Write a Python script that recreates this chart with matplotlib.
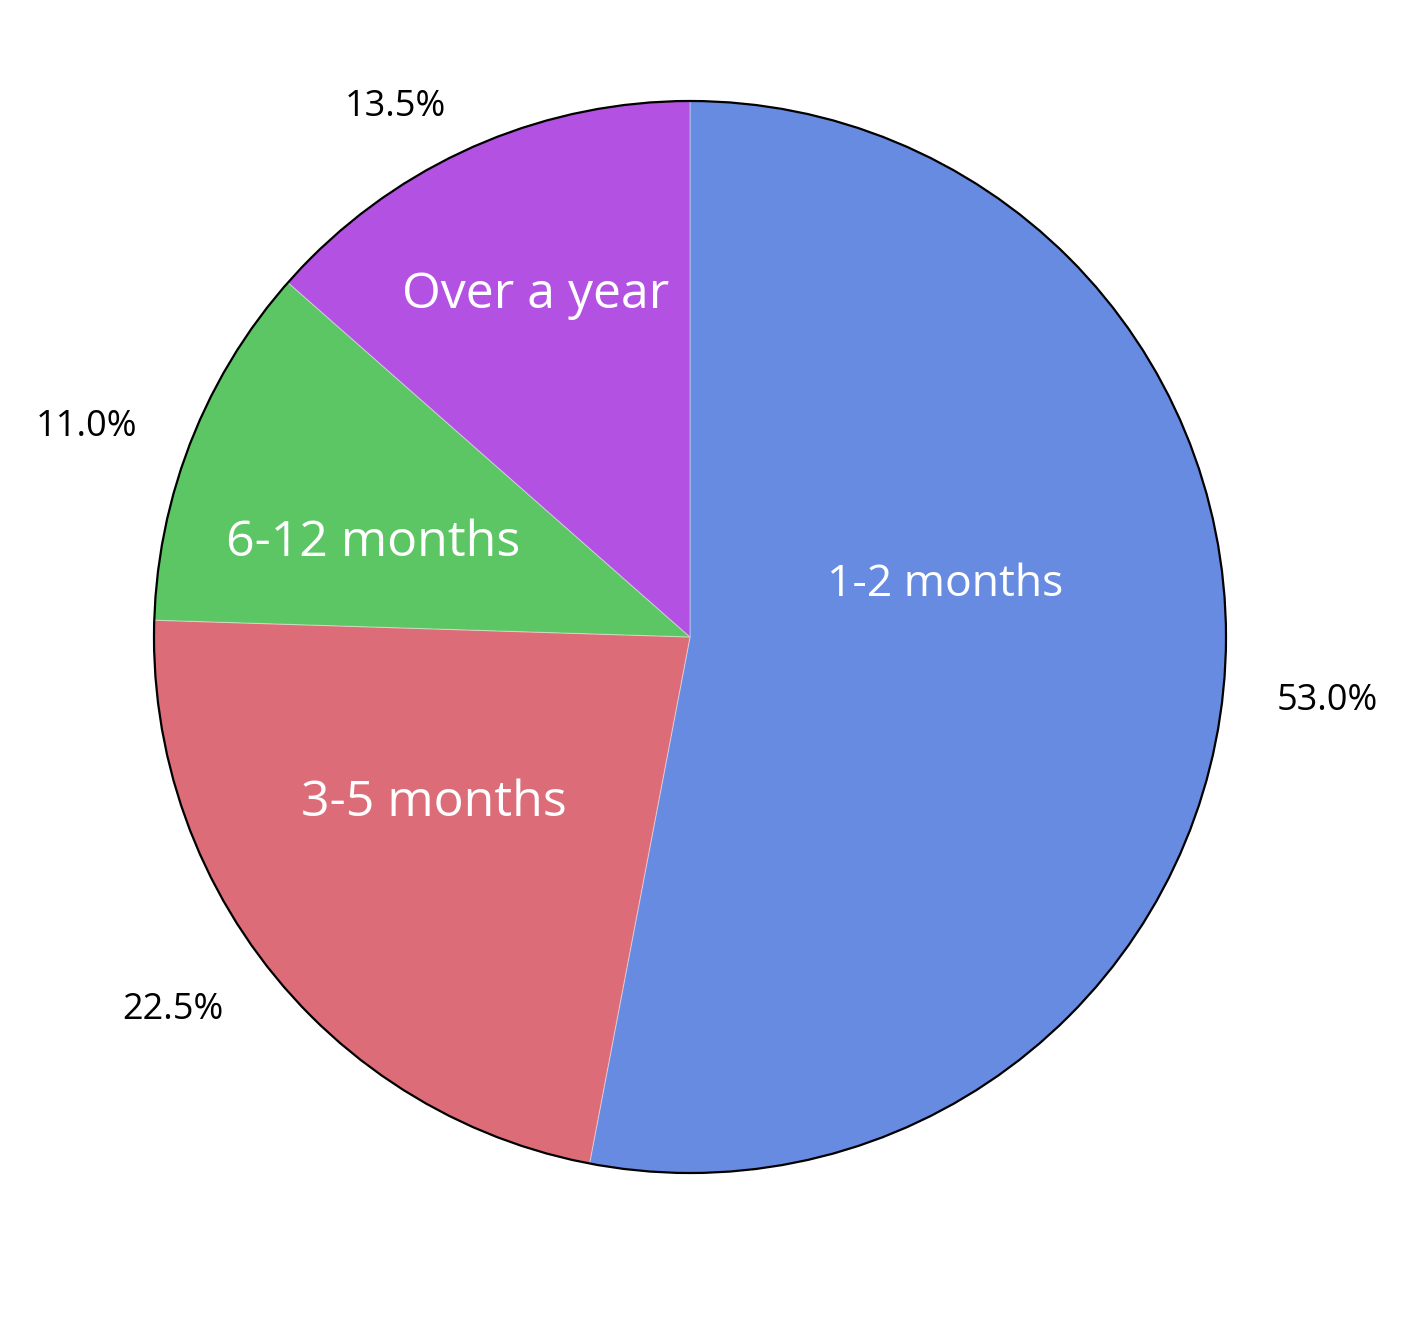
import numpy as np
import matplotlib
matplotlib.use("Agg")
import matplotlib.pyplot as plt
from matplotlib.patches import Circle

plt.rcParams['font.family'] = ['Open Sans', 'DejaVu Sans']

# data
categories = ["1-2 months", "3-5 months", "6-12 months", "Over a year"]
shares = [53.0, 22.5, 11.0, 13.5]
colors = ["#678BE1", "#DC6D78", "#5CC664", "#B352E2"]

# label placement (angle in deg, radius in pie units, font size) - tuned by eye
inner_pos = [(11.6, 0.485, 32), (-147.0, 0.57, 36), (163.5, 0.617, 36), (114.3, 0.70, 36)]
outer_pos = [(-5.7, 1.195), (-144.2, 1.19), (160.8, 1.192), (119.1, 1.132)]

W, H = 1418, 1318
cx, cy, R = 690, 637, 536

fig = plt.figure(figsize=(W / 100, H / 100), dpi=100)
ax = fig.add_axes([0, 0, 1, 1])

wedges, _ = ax.pie(shares, colors=colors, startangle=90, counterclock=False,
                   wedgeprops=dict(linewidth=0.8, edgecolor=(1, 1, 1, 0.35)))
ax.add_patch(Circle((0, 0), 1.0, fill=False, edgecolor='black', linewidth=1.6, zorder=5))

for lab, (ang, r, fs) in zip(categories, inner_pos):
    a = np.deg2rad(ang)
    ax.text(r * np.cos(a), r * np.sin(a), lab, color='white', fontsize=fs,
            ha='center', va='center', zorder=6)

for val, (ang, r) in zip(shares, outer_pos):
    a = np.deg2rad(ang)
    ax.text(r * np.cos(a), r * np.sin(a), "%.1f%%" % val, color='black', fontsize=26,
            ha='center', va='center', zorder=6)

ax.set_aspect('auto')
ax.set_xlim(-cx / R, (W - cx) / R)
ax.set_ylim(-(H - cy) / R, cy / R)
ax.axis('off')

fig.savefig("out.png", dpi=100, facecolor='white')
